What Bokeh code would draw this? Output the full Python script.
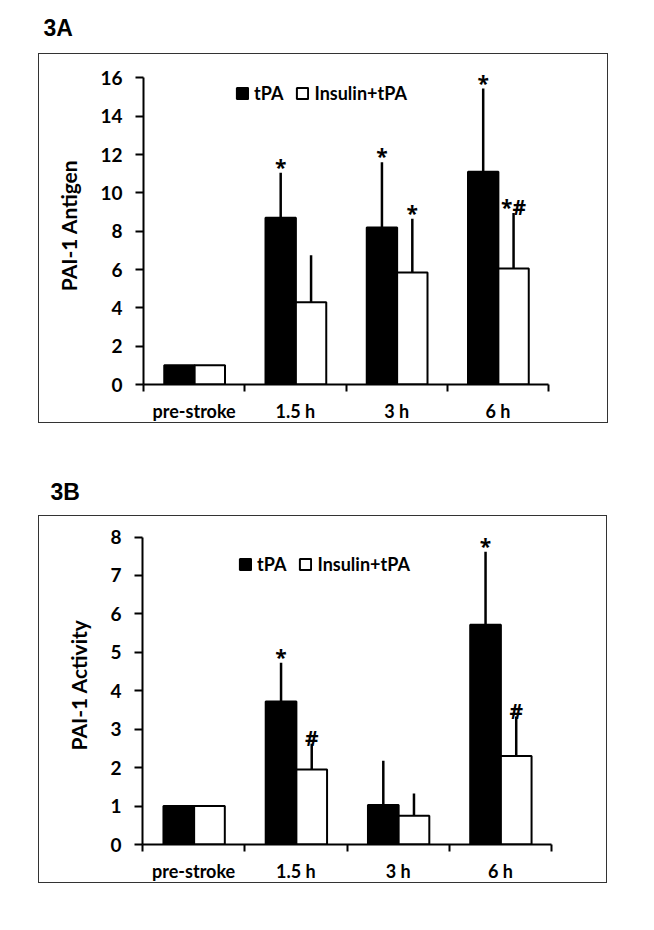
from bokeh.plotting import figure
from bokeh.models import (ColumnDataSource, FixedTicker, Legend, LegendItem, Spacer,
                          Range1d, Label)
from bokeh.layouts import column, row
from bokeh.embed import file_html
from bokeh.resources import INLINE
from bokeh.core.properties import value

FONT = "Lato"
MARK_FONT = "Open Sans"
TITLE_FONT = "Liberation Sans"

categories = ["pre-stroke", "1.5 h", "3 h", "6 h"]
series_names = ["tPA", "Insulin+tPA"]

# Panel 3A : PAI-1 Antigen
a_tpa = [1.0, 8.7, 8.2, 11.1]
a_tpa_err = [0.0, 2.35, 3.4, 4.35]
a_ins = [1.0, 4.3, 5.85, 6.05]
a_ins_err = [0.0, 2.45, 2.8, 2.9]
a_tpa_marks = ["", "*", "*", "*"]
a_ins_marks = ["", "", "*", "*#"]
a_yticks = [0, 2, 4, 6, 8, 10, 12, 14, 16]

# Panel 3B : PAI-1 Activity
b_tpa = [1.0, 3.72, 1.03, 5.72]
b_tpa_err = [0.0, 1.01, 1.15, 1.9]
b_ins = [1.0, 1.95, 0.75, 2.3]
b_ins_err = [0.0, 0.67, 0.58, 1.03]
b_tpa_marks = ["", "*", "", "*"]
b_ins_marks = ["", "#", "", "#"]
b_yticks = [0, 1, 2, 3, 4, 5, 6, 7, 8]


def title_fig(text, height, x, y):
    t = figure(width=640, height=height, toolbar_location=None, output_backend="svg",
               x_range=Range1d(0, 1), y_range=Range1d(0, 1), min_border=0)
    t.xaxis.visible = False
    t.yaxis.visible = False
    t.xgrid.visible = False
    t.ygrid.visible = False
    t.outline_line_color = None
    t.add_layout(Label(x=x, y=y, x_units="screen", y_units="screen", text=text,
                       text_font=TITLE_FONT, text_font_style="bold",
                       text_font_size="23px", text_baseline="alphabetic",
                       text_color="black"))
    return t


def panel(tpa, tpa_err, ins, ins_err, tpa_marks, ins_marks, yticks, ylabel, headroom,
          frame_w, frame_h, b_left, b_right, b_top, b_bottom, leg_loc):
    n = len(categories)
    xt = [i + 0.355 for i in range(n)]
    xi = [i + 0.655 for i in range(n)]
    src_t = ColumnDataSource(dict(x=xt, top=tpa, err=[v + e for v, e in zip(tpa, tpa_err)],
                                  marks=tpa_marks))
    src_i = ColumnDataSource(dict(x=xi, top=ins, err=[v + e for v, e in zip(ins, ins_err)],
                                  marks=ins_marks))

    p = figure(frame_width=frame_w, frame_height=frame_h, toolbar_location=None,
               output_backend="svg",
               x_range=Range1d(0, n), y_range=Range1d(yticks[0], yticks[-1] + headroom),
               min_border_left=b_left, min_border_right=b_right,
               min_border_top=b_top, min_border_bottom=b_bottom,
               styles={"border": "1.5px solid #333"})
    p.xgrid.visible = False
    p.ygrid.visible = False
    p.outline_line_color = None

    # error bars (upper only)
    p.segment(x0="x", y0="top", x1="x", y1="err", source=src_t, line_color="black", line_width=2.5)
    p.segment(x0="x", y0="top", x1="x", y1="err", source=src_i, line_color="black", line_width=2.5)

    r1 = p.vbar(x="x", top="top", bottom=0, width=0.3, source=src_t,
                fill_color="black", line_color="black", line_width=2)
    r2 = p.vbar(x="x", top="top", bottom=0, width=0.3, source=src_i,
                fill_color="white", line_color="black", line_width=2)

    for src in (src_t, src_i):
        p.text(x="x", y="err", text="marks", source=src, text_align="center",
               text_baseline="alphabetic", y_offset=-6, text_font=value(MARK_FONT),
               text_font_style="bold", text_font_size="21px", text_color="black")

    # x axis: labels at category centres, ticks at category boundaries
    xa = p.xaxis[0]
    xa.ticker = FixedTicker(ticks=[i + 0.5 for i in range(n)], minor_ticks=list(range(n + 1)))
    xa.major_label_overrides = {i + 0.5: c for i, c in enumerate(categories)}
    xa.major_tick_line_color = None
    xa.major_tick_out = 0
    xa.major_tick_in = 0
    xa.minor_tick_line_color = "black"
    xa.minor_tick_line_width = 2
    xa.minor_tick_out = 7
    xa.minor_tick_in = 0
    xa.axis_line_width = 2
    xa.axis_line_color = "black"
    xa.major_label_standoff = 8
    xa.major_label_text_font = FONT
    xa.major_label_text_font_style = "bold"
    xa.major_label_text_font_size = "18px"
    xa.major_label_text_color = "black"

    ya = p.yaxis[0]
    ya.ticker = FixedTicker(ticks=yticks, minor_ticks=[])
    ya.bounds = (yticks[0], yticks[-1])
    ya.major_tick_out = 8
    ya.major_tick_in = 0
    ya.major_tick_line_width = 2
    ya.axis_line_width = 2
    ya.axis_line_color = "black"
    ya.major_label_standoff = 13
    ya.major_label_text_font = FONT
    ya.major_label_text_font_style = "bold"
    ya.major_label_text_font_size = "19px"
    ya.major_label_text_color = "black"
    ya.axis_label = ylabel
    ya.axis_label_text_font = FONT
    ya.axis_label_text_font_style = "bold"
    ya.axis_label_text_font_size = "21px"
    ya.axis_label_text_color = "black"
    ya.axis_label_standoff = 16

    legend = Legend(items=[LegendItem(label=series_names[0], renderers=[r1]),
                           LegendItem(label=series_names[1], renderers=[r2])],
                    orientation="horizontal", location=leg_loc,
                    glyph_width=14, glyph_height=14, label_standoff=5, spacing=12,
                    padding=0, margin=0, border_line_color=None, background_fill_alpha=0,
                    label_text_font=FONT, label_text_font_style="bold",
                    label_text_font_size="18px", label_text_color="black")
    p.add_layout(legend)
    return p


figA = panel(a_tpa, a_tpa_err, a_ins, a_ins_err, a_tpa_marks, a_ins_marks, a_yticks,
             "PAI-1 Antigen", 0.6, 403, 316, 104, 61, 12, 36, (92, 280))
figB = panel(b_tpa, b_tpa_err, b_ins, b_ins_err, b_tpa_marks, b_ins_marks, b_yticks,
             "PAI-1 Activity", 0.3, 407, 317, 103, 57, 9, 36, (96, 269))

tA = title_fig("3A", 53, 43, 26)
tB = title_fig("3B", 92, 50, 24)

layout = column(tA, row(Spacer(width=38), figA), tB, row(Spacer(width=38), figB))

open("out.html", "w").write(file_html(layout, INLINE))
